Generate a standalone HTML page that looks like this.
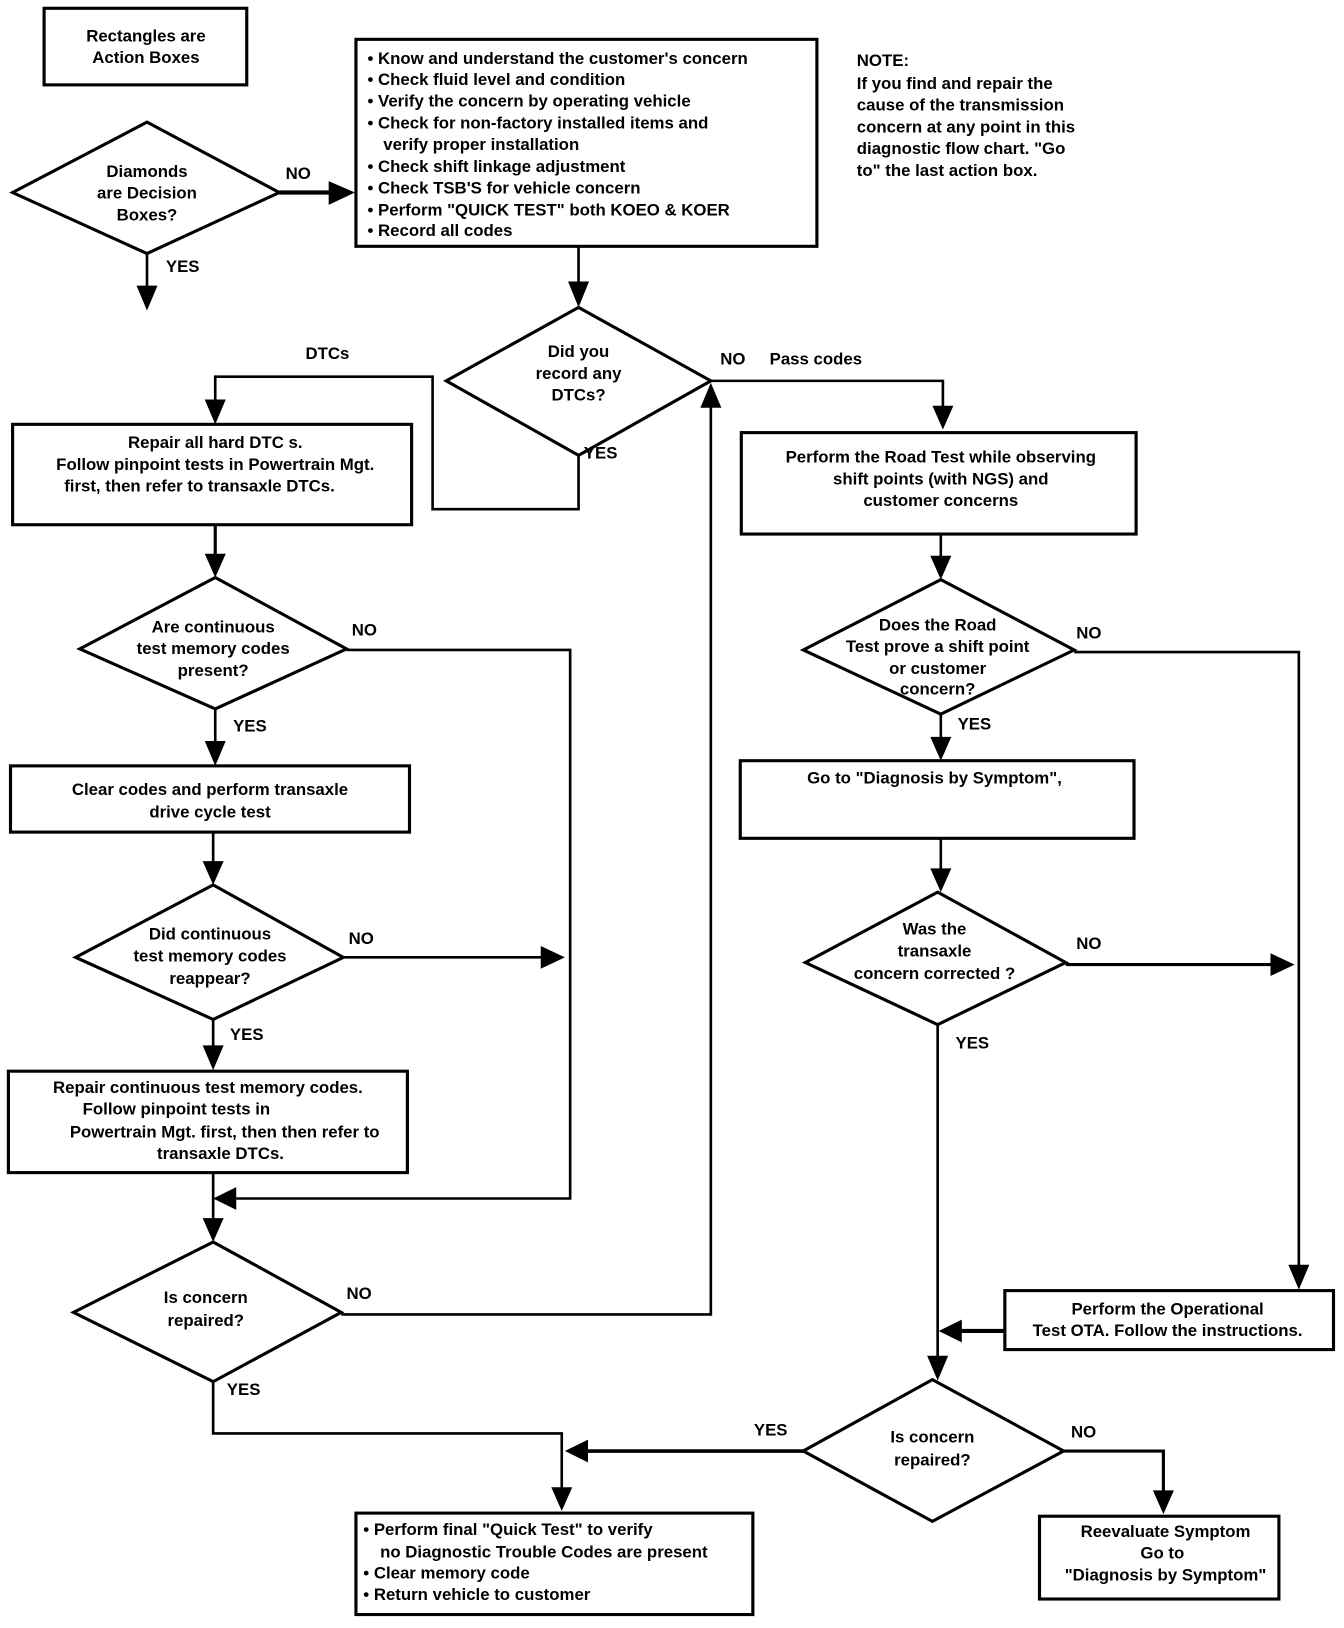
<!DOCTYPE html>
<html><head><meta charset="utf-8"><style>
html,body{margin:0;padding:0;background:#fff;}
svg{display:block;}
text{font-family:"Liberation Sans",sans-serif;font-weight:bold;font-size:16px;fill:#000;}
.c{text-anchor:middle;}
</style></head><body>
<svg width="1344" height="1628" viewBox="0 0 1280 1573" preserveAspectRatio="none" xmlns="http://www.w3.org/2000/svg">
<defs>
<marker id="a" viewBox="0 0 10 10" refX="10" refY="5" markerWidth="9" markerHeight="9" markerUnits="userSpaceOnUse" orient="auto">
</marker>
</defs>
<g fill="none" stroke="#000" stroke-width="2.5">
<!-- boxes -->
<rect x="42" y="8" width="193" height="74" stroke-width="3"/>
<rect x="339" y="38" width="439" height="200" stroke-width="3"/>
<rect x="12" y="410" width="380" height="97" stroke-width="3"/>
<rect x="10" y="740" width="380" height="64" stroke-width="3"/>
<rect x="8" y="1035" width="380" height="98" stroke-width="3"/>
<rect x="706" y="418" width="376" height="98" stroke-width="3"/>
<rect x="705" y="735" width="375" height="75" stroke-width="3"/>
<rect x="957" y="1247" width="313" height="57" stroke-width="3"/>
<rect x="339" y="1462" width="378" height="98" stroke-width="3"/>
<rect x="990" y="1465" width="228" height="80" stroke-width="3"/>
<!-- diamonds -->
<polygon points="12,186 140,118 266,186 140,245" stroke-width="3"/>
<polygon points="425,368 551,297 677,368 551,440" stroke-width="3"/>
<polygon points="76,627 205,558 330,627 205,685" stroke-width="3"/>
<polygon points="72,925 203,855 327,925 203,985" stroke-width="3"/>
<polygon points="70,1268 203,1200 325,1268 203,1335" stroke-width="3"/>
<polygon points="765,628 896,560 1023,628 896,690" stroke-width="3"/>
<polygon points="767,930 893,862 1015,930 893,990" stroke-width="3"/>
<polygon points="765,1402 888,1333 1013,1402 888,1470" stroke-width="3"/>
<!-- lines -->
<polyline points="266,186 320,186" stroke-width="4"/>
<polyline points="140,245 140,280"/>
<polyline points="551,238 551,275"/>
<polyline points="551,440 551,492 412,492 412,364 205,364 205,390"/>
<polyline points="677,368 898,368 898,395"/>
<polyline points="325,1270 677,1270 677,392"/>
<polyline points="205,507 205,538" stroke-width="3"/>
<polyline points="330,628 543,628 543,1158 225,1158"/>
<polyline points="205,685 205,720"/>
<polyline points="203,804 203,835"/>
<polyline points="327,925 518,925"/>
<polyline points="203,985 203,1012"/>
<polyline points="203,1133 203,1180"/>
<polyline points="203,1335 203,1385 535,1385 535,1440"/>
<polyline points="765,1402 556,1402" stroke-width="3.5"/>
<polyline points="896,516 896,540"/>
<polyline points="1023,630 1237,630 1237,1225"/>
<polyline points="896,690 896,715"/>
<polyline points="896,810 896,842"/>
<polyline points="1015,932 1212,932" stroke-width="3"/>
<polyline points="893,990 893,1313"/>
<polyline points="957,1286 913,1286" stroke-width="4"/>
<polyline points="1013,1402 1108,1402 1108,1442" stroke-width="3"/>
</g>
<g fill="#000">
<polygon points="313,175 338,186 313,198"/>
<polygon points="130,276 150,276 140,300"/>
<polygon points="541,272 561,272 551,297"/>
<polygon points="195,386 215,386 205,410"/>
<polygon points="888,392 908,392 898,415"/>
<polygon points="667,394 687,394 677,370"/>
<polygon points="195,535 215,535 205,558"/>
<polygon points="225,1147 225,1169 203,1158"/>
<polygon points="195,716 215,716 205,740"/>
<polygon points="193,832 213,832 203,855"/>
<polygon points="515,914 515,936 538,925"/>
<polygon points="193,1010 213,1010 203,1034"/>
<polygon points="193,1177 213,1177 203,1200"/>
<polygon points="525,1437 545,1437 535,1460"/>
<polygon points="560,1391 560,1413 538,1402"/>
<polygon points="886,537 906,537 896,560"/>
<polygon points="886,712 906,712 896,735"/>
<polygon points="886,839 906,839 896,862"/>
<polygon points="1210,921 1210,943 1233,932"/>
<polygon points="1227,1222 1247,1222 1237,1246"/>
<polygon points="916,1275 916,1297 894,1286"/>
<polygon points="883,1310 903,1310 893,1334"/>
<polygon points="1098,1440 1118,1440 1108,1463"/>
</g>
<!-- texts -->
<text class="c" x="139" y="40">Rectangles are</text>
<text class="c" x="139" y="61">Action Boxes</text>
<text class="c" x="140" y="171">Diamonds</text>
<text class="c" x="140" y="192">are Decision</text>
<text class="c" x="140" y="213">Boxes?</text>
<text x="272" y="173">NO</text>
<text x="158" y="263">YES</text>
<text x="350" y="62">• Know and understand the customer's concern</text>
<text x="350" y="82">• Check fluid level and condition</text>
<text x="350" y="103">• Verify the concern by operating vehicle</text>
<text x="350" y="124">• Check for non-factory installed items and</text>
<text x="365" y="145">verify proper installation</text>
<text x="350" y="166">• Check shift linkage adjustment</text>
<text x="350" y="187">• Check TSB'S  for vehicle concern</text>
<text x="350" y="208">• Perform "QUICK TEST" both KOEO &amp; KOER</text>
<text x="350" y="228">• Record all codes</text>
<text x="816" y="64">NOTE:</text>
<text x="816" y="86">If you find and repair the</text>
<text x="816" y="107">cause of the transmission</text>
<text x="816" y="128">concern at any point in this</text>
<text x="816" y="149">diagnostic flow chart. "Go</text>
<text x="816" y="170">to" the last action box.</text>
<text class="c" x="551" y="345">Did you</text>
<text class="c" x="551" y="366">record any</text>
<text class="c" x="551" y="387">DTCs?</text>
<text x="291" y="347">DTCs</text>
<text x="686" y="352">NO</text>
<text x="733" y="352">Pass codes</text>
<text x="556" y="443">YES</text>
<text class="c" x="205" y="433">Repair all hard DTC s.</text>
<text class="c" x="205" y="454">Follow pinpoint tests in  Powertrain Mgt.</text>
<text class="c" x="190" y="475">first, then refer to   transaxle DTCs.</text>
<text class="c" x="203" y="611">Are continuous</text>
<text class="c" x="203" y="632">test memory codes</text>
<text class="c" x="203" y="653">present?</text>
<text x="335" y="614">NO</text>
<text x="222" y="707">YES</text>
<text class="c" x="200" y="768">Clear codes and perform transaxle</text>
<text class="c" x="200" y="790">drive cycle test</text>
<text class="c" x="200" y="908">Did continuous</text>
<text class="c" x="200" y="929">test memory codes</text>
<text class="c" x="200" y="951">reappear?</text>
<text x="332" y="912">NO</text>
<text x="219" y="1005">YES</text>
<text class="c" x="198" y="1056">Repair continuous test memory codes.</text>
<text class="c" x="168" y="1077">Follow pinpoint tests in</text>
<text class="c" x="214" y="1099">Powertrain Mgt. first, then then refer to</text>
<text class="c" x="210" y="1120">transaxle DTCs.</text>
<text class="c" x="196" y="1259">Is concern</text>
<text class="c" x="196" y="1281">repaired?</text>
<text x="330" y="1255">NO</text>
<text x="216" y="1348">YES</text>
<text class="c" x="896" y="447">Perform the Road Test while observing</text>
<text class="c" x="896" y="468">shift points (with NGS) and</text>
<text class="c" x="896" y="489">customer concerns</text>
<text class="c" x="893" y="609">Does the Road</text>
<text class="c" x="893" y="630">Test prove a shift point</text>
<text class="c" x="893" y="651">or customer</text>
<text class="c" x="893" y="671">concern?</text>
<text x="1025" y="617">NO</text>
<text x="912" y="705">YES</text>
<text class="c" x="890" y="757">Go to "Diagnosis by Symptom",</text>
<text class="c" x="890" y="903">Was the</text>
<text class="c" x="890" y="924">transaxle</text>
<text class="c" x="890" y="946">concern corrected ?</text>
<text x="1025" y="917">NO</text>
<text x="910" y="1013">YES</text>
<text class="c" x="1112" y="1270">Perform the Operational</text>
<text class="c" x="1112" y="1291">Test OTA. Follow the instructions.</text>
<text class="c" x="888" y="1394">Is concern</text>
<text class="c" x="888" y="1416">repaired?</text>
<text x="718" y="1387">YES</text>
<text x="1020" y="1389">NO</text>
<text x="346" y="1483">• Perform final "Quick Test" to verify</text>
<text x="362" y="1505">no Diagnostic Trouble Codes are present</text>
<text x="346" y="1525">• Clear memory code</text>
<text x="346" y="1546">• Return vehicle to customer</text>
<text class="c" x="1110" y="1485">Reevaluate Symptom</text>
<text class="c" x="1107" y="1506">Go to</text>
<text class="c" x="1110" y="1527">"Diagnosis by Symptom"</text>
</svg>
</body></html>
